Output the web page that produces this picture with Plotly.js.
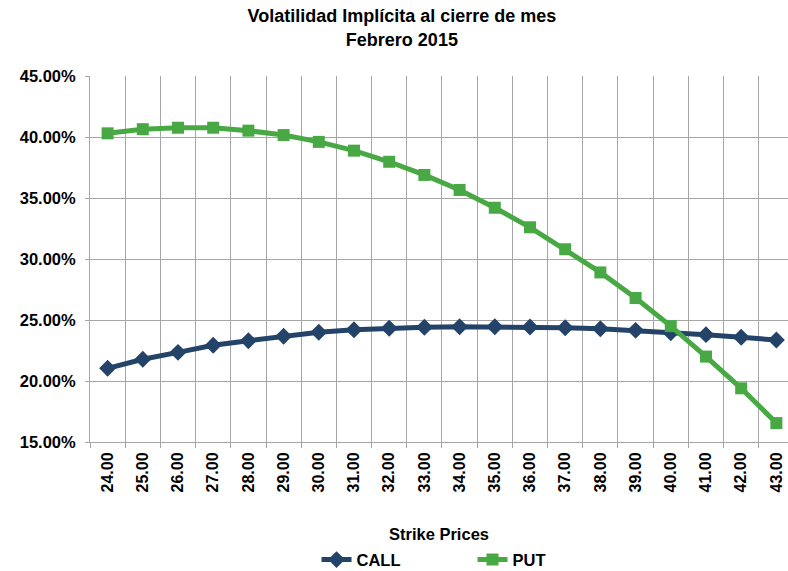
<!DOCTYPE html>
<html>
<head>
<meta charset="utf-8">
<script src="https://cdn.plot.ly/plotly-3.0.1.min.js"></script>
<style>
html,body{margin:0;padding:0;background:#fff;overflow:hidden;}
#chart{width:788px;height:571px;}
</style>
</head>
<body>
<div id="chart"></div>
<script>
const strikes = ['24.00','25.00','26.00','27.00','28.00','29.00','30.00','31.00','32.00','33.00',
                 '34.00','35.00','36.00','37.00','38.00','39.00','40.00','41.00','42.00','43.00'];
const callVol = [0.2104,0.2178,0.2235,0.2293,0.2330,0.2367,0.2400,0.2420,0.2432,0.2440,
                 0.2445,0.2445,0.2443,0.2437,0.2428,0.2415,0.2395,0.2380,0.2358,0.2336];
const putVol  = [0.4030,0.4064,0.4076,0.4076,0.4052,0.4016,0.3960,0.3888,0.3797,0.3689,
                 0.3566,0.3420,0.3260,0.3080,0.2890,0.2680,0.2450,0.2200,0.1940,0.1655];

const FONT = 'Liberation Sans, Arial, Helvetica, sans-serif';
const GRID = '#a6a6a6';

const traces = [
  {
    x: strikes, y: callVol, name: 'CALL', type: 'scatter', mode: 'lines+markers',
    line: {color: '#244368', width: 5},
    marker: {symbol: 'diamond', size: 13, color: '#244368'}
  },
  {
    x: strikes, y: putVol, name: 'PUT', type: 'scatter', mode: 'lines+markers',
    line: {color: '#48a944', width: 5},
    marker: {symbol: 'square', size: 12, color: '#48a944'}
  }
];

const layout = {
  width: 788, height: 571,
  paper_bgcolor: '#ffffff', plot_bgcolor: '#ffffff',
  font: {family: FONT, color: '#000000', size: 16, weight: 'bold'},
  margin: {l: 90, r: 0, t: 76, b: 129, autoexpand: false},
  title: {
    text: 'Volatilidad Implícita al cierre de mes<br>Febrero 2015',
    font: {family: FONT, size: 18, color: '#000000', weight: 'bold'},
    x: 0.51, xanchor: 'center', xref: 'container',
    y: 0.961, yanchor: 'top', yref: 'container'
  },
  xaxis: {
    type: 'category',
    categoryorder: 'array', categoryarray: strikes,
    range: [-0.5, 19.33],
    tickangle: -90,
    tickson: 'boundaries',
    ticks: 'outside', ticklen: 5, tickcolor: GRID, tickwidth: 1,
    ticklabelstandoff: 3,
    showgrid: true, gridcolor: GRID, gridwidth: 1,
    showline: true, linecolor: GRID, linewidth: 1,
    tickfont: {family: FONT, size: 16, color: '#000', weight: 'bold'},
    title: {text: 'Strike Prices', standoff: 37,
            font: {family: FONT, size: 16.5, color: '#000', weight: 'bold'}},
    zeroline: false, fixedrange: true, automargin: false
  },
  yaxis: {
    range: [0.15, 0.45],
    dtick: 0.05, tick0: 0.15,
    tickformat: '.2%',
    ticks: 'outside', ticklen: 4, tickcolor: GRID, tickwidth: 1,
    ticklabelstandoff: 6,
    showgrid: true, gridcolor: GRID, gridwidth: 1,
    showline: true, linecolor: GRID, linewidth: 1,
    tickfont: {family: FONT, size: 16.5, color: '#000', weight: 'bold'},
    zeroline: false, fixedrange: true, automargin: false
  },
  showlegend: true,
  legend: {
    orientation: 'h',
    x: 0.548, xanchor: 'center',
    y: -0.322, yanchor: 'middle',
    font: {family: FONT, size: 16.5, color: '#000', weight: 'bold'},
    entrywidth: 111, entrywidthmode: 'pixels',
    bgcolor: 'rgba(0,0,0,0)'
  }
};

Plotly.newPlot('chart', traces, layout, {displayModeBar: false, staticPlot: true});
</script>
</body>
</html>
